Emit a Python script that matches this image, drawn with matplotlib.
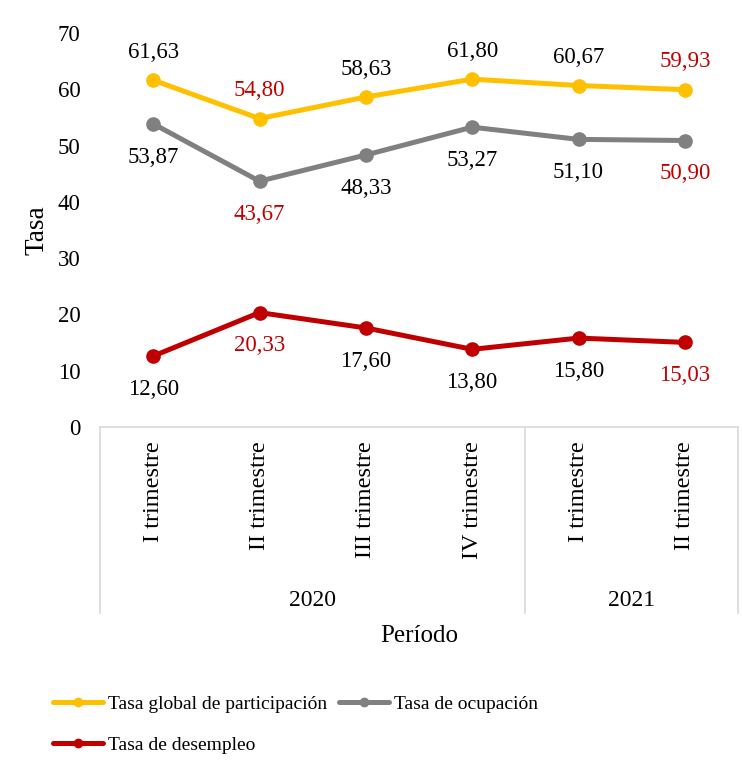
import numpy as np
import matplotlib.pyplot as plt
from matplotlib.lines import Line2D

plt.rcParams['font.family'] = ['Liberation Serif', 'DejaVu Serif']

trimestres = ['I trimestre', 'II trimestre', 'III trimestre', 'IV trimestre', 'I trimestre', 'II trimestre']
anios = ['2020', '2021']
anio_n = [4, 2]

tgp = [61.63, 54.80, 58.63, 61.80, 60.67, 59.93]
to = [53.87, 43.67, 48.33, 53.27, 51.10, 50.90]
td = [12.60, 20.33, 17.60, 13.80, 15.80, 15.03]

# which labels show in red (per series)
rojo_tgp = [False, True, False, False, False, True]
rojo_to = [False, True, False, False, False, True]
rojo_td = [False, True, False, False, False, True]

c_tgp = '#FFC000'
c_to = '#808080'
c_td = '#C00000'

fig = plt.figure(figsize=(7.42, 7.71), dpi=100)
ax = fig.add_axes([100 / 742, (771 - 427) / 771, 638 / 742, 394 / 771])

x = np.arange(len(trimestres))
series = [(tgp, c_tgp, rojo_tgp, 20, 'Tasa global de participación'),
          (to, c_to, rojo_to, -24, 'Tasa de ocupación'),
          (td, c_td, rojo_td, -24, 'Tasa de desempleo')]

for vals, col, rojos, off, name in series:
    ax.plot(x, vals, color=col, lw=3.6, marker='o', ms=9.5, label=name,
            solid_capstyle='round', zorder=3)
    for xi, v, r in zip(x, vals, rojos):
        ax.annotate(f'{v:.2f}'.replace('.', ','), (xi, v), xytext=(0, off),
                    textcoords='offset points', ha='center', va='center',
                    fontsize=16.5, color=c_td if r else 'black')

ax.set_xlim(-0.5, len(trimestres) - 0.5)
ax.set_ylim(0, 70)
ax.set_yticks(range(0, 71, 10))
ax.tick_params(axis='y', length=0, labelsize=16.5, pad=14)
ax.set_xticks([])
for s in ax.spines.values():
    s.set_visible(False)
ax.set_ylabel('Tasa', fontsize=19.5, labelpad=6)

# category box below the plot
gris = '#D9D9D9'
trans = ax.get_xaxis_transform()
box_bottom = -(613 - 427) / 394
ax.plot([-0.5, len(trimestres) - 0.5], [0, 0], transform=trans, color=gris,
        lw=1.2, clip_on=False)
bounds = [-0.5]
for n in anio_n:
    bounds.append(bounds[-1] + n)
for b in bounds:
    ax.plot([b, b], [0, box_bottom], transform=trans, color=gris, lw=1.2,
            clip_on=False)
for xi, t in zip(x, trimestres):
    ax.text(xi, -(441 - 427) / 394, t, transform=trans, rotation=90,
            ha='center', va='top', fontsize=17.5)
for i, a in enumerate(anios):
    ax.text((bounds[i] + bounds[i + 1]) / 2, -(601 - 427) / 394, a,
            transform=trans, ha='center', va='center', fontsize=17)
fig.text((100 + 738) / 2 / 742, 1 - 636 / 771, 'Período', ha='center',
         va='center', fontsize=18)

handles = [Line2D([0], [0], color=c, lw=3.6, marker='o', ms=6,
                  solid_capstyle='round') for c in (c_tgp, c_td, c_to)]
labels = [series[0][4], series[2][4], series[1][4]]
fig.legend(handles, labels, ncol=2, frameon=False,
           loc='upper left', bbox_to_anchor=(35 / 742, 1 - 678 / 771),
           fontsize=14, handlelength=2.6, handletextpad=0.25,
           columnspacing=0.6, labelspacing=1.2)

fig.savefig('out.png', dpi=100)
